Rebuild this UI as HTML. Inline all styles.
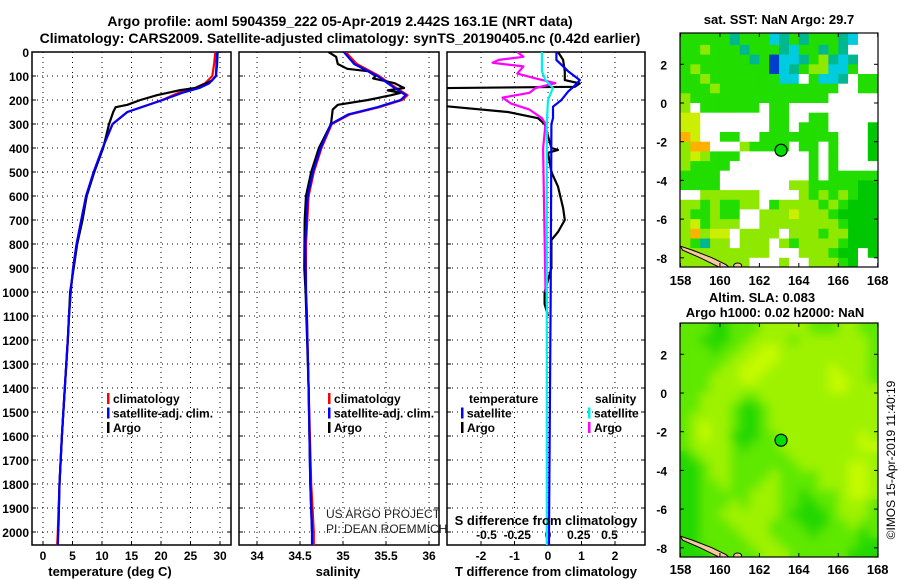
<!DOCTYPE html>
<html><head><meta charset="utf-8">
<style>
html,body{margin:0;padding:0;background:#fff;}
svg{display:block;font-family:"Liberation Sans",Arial,sans-serif;}
.b{font-weight:bold;}
</style></head>
<body>
<svg id="fig" width="900" height="580" viewBox="0 0 900 580" xmlns="http://www.w3.org/2000/svg">
<defs>
<clipPath id="c1"><rect x="32" y="52" width="199" height="493"/></clipPath>
<clipPath id="c2"><rect x="239" y="52" width="200" height="493"/></clipPath>
<clipPath id="c3"><rect x="447" y="52" width="198" height="493"/></clipPath>
<clipPath id="cm1"><rect x="680" y="33" width="198" height="234"/></clipPath>
<clipPath id="cm2"><rect x="680" y="323" width="198" height="234"/></clipPath>
<filter id="blur" x="-10%" y="-10%" width="120%" height="120%"><feGaussianBlur stdDeviation="5"/></filter>
</defs>
<text x="340" y="26" text-anchor="middle" class="b" font-size="14">Argo profile: aoml 5904359_222 05-Apr-2019 2.442S 163.1E (NRT data)</text>
<text x="340" y="43" text-anchor="middle" class="b" font-size="14">Climatology: CARS2009. Satellite-adjusted climatology: synTS_20190405.nc (0.42d earlier)</text>
<g id="g1"></g>
<g id="g2"></g>
<g id="g3"></g>
<g id="m1"></g>
<g id="m2"></g>
<text x="110" y="576" text-anchor="middle" class="b" font-size="13">temperature (deg C)</text>
<text x="338" y="576" text-anchor="middle" class="b" font-size="13">salinity</text>
<text x="546" y="576" text-anchor="middle" class="b" font-size="13">T difference from climatology</text>
<text x="546" y="525" text-anchor="middle" class="b" font-size="13">S difference from climatology</text>
<text x="326" y="518" font-size="12" fill="#222">US ARGO PROJECT</text>
<text x="326" y="533" font-size="12" fill="#222">PI: DEAN ROEMMICH</text>
<text x="779" y="24" text-anchor="middle" class="b" font-size="13">sat. SST: NaN Argo: 29.7</text>
<text x="762" y="302" text-anchor="middle" class="b" font-size="13">Altim. SLA: 0.083</text>
<text x="775" y="317" text-anchor="middle" class="b" font-size="13">Argo h1000: 0.02 h2000: NaN</text>
<text transform="translate(895,460) rotate(-90)" text-anchor="middle" font-size="12">©IMOS 15-Apr-2019 11:40:19</text>
</svg>
<script>
// ---- profile data (depth in m) ----
const tDepth = [0,50,100,130,150,170,200,250,300,400,500,600,700,800,900,1000,1100,1200,1400,1600,1800,2000,2054];
const tClim  = [29.2,29.0,28.7,27.5,25.8,23.0,20.2,14.3,11.8,10.1,8.6,7.3,6.5,5.7,5.1,4.7,4.4,4.2,3.7,3.2,2.8,2.5,2.4];
const tSat   = [29.5,29.4,29.3,28.2,26.5,23.6,20.3,14.3,11.8,10.1,8.6,7.3,6.5,5.7,5.1,4.7,4.4,4.2,3.7,3.2,2.8,2.6,2.5];
const argoDepth = [0,50,100,120,135,150,160,180,200,220,230,250,300,400,500,600,700,800,900,1000,1100,1200,1400,1600,1800,2000];
const argoT  = [29.6,29.5,29.3,28.6,27.2,25.8,23.0,19.3,16.5,14.3,12.3,11.9,11.2,10.2,8.7,7.4,6.7,5.8,5.2,4.6,4.4,4.2,3.7,3.2,2.8,2.6];
const sDepth = [0,50,100,150,180,200,230,260,300,400,500,600,800,1000,1100,1400,1800,2000,2054];
const sClim  = [35.03,35.16,35.42,35.62,35.75,35.69,35.42,35.08,34.87,34.75,34.66,34.60,34.57,34.57,34.58,34.60,34.63,34.66,34.66];
const sSat   = [35.01,35.13,35.40,35.60,35.73,35.67,35.40,35.06,34.86,34.74,34.65,34.59,34.56,34.57,34.58,34.60,34.62,34.64,34.64];
const argoSDepth = [0,20,50,70,80,100,110,130,150,160,170,180,200,220,240,300,400,500,600,700,900,1000,1400,1800,2000];
const argoS  = [34.83,34.92,34.94,35.05,35.29,35.38,35.35,35.60,35.71,35.52,35.67,35.56,35.29,34.94,34.88,34.86,34.72,34.63,34.57,34.555,34.55,34.565,34.6,34.62,34.64];
// differences
const dTDepth = [0,33,80,117,131,145,151,165,220,228,250,276,300,400,408,420,500,561,650,700,750,783,900,1000,1050,1100];
const dTArgo  = [0.3,0.45,0.5,0.5,0.95,0.8,-3.5,-3.6,-3.5,-2.9,-1.2,-0.3,-0.1,0.1,0.3,0.0,0.1,0.3,0.45,0.5,0.3,0.1,0.1,-0.1,-0.1,0.0];
const dTSDepth = [0,33,80,117,140,165,200,228,276,300,1000,2000,2054];
const dTSat   = [0.25,0.25,0.6,0.95,0.8,0.6,0.4,0.15,0.15,0.1,0.08,0.03,0.03];
const dSDepth = [0,20,33,45,60,90,110,130,150,170,190,215,240,276,300,400,700,1000];
const dSArgo  = [-0.25,-0.2,-0.4,-0.45,-0.2,-0.25,-0.1,0.06,-0.1,-0.15,-0.37,-0.3,-0.15,-0.05,-0.02,-0.04,-0.03,-0.02];
const dSSDepth = [0,80,117,150,200,300,1000,2000,2054];
const dSSat   = [-0.05,-0.05,-0.02,0.04,0.0,-0.01,-0.01,-0.01,-0.01];
const depthTicks = [0,100,200,300,400,500,600,700,800,900,1000,1100,1200,1300,1400,1500,1600,1700,1800,1900,2000];
const tTicks = [0,5,10,15,20,25,30];
const sTicks = [34,34.5,35,35.5,36];
const dtTicks = [-2,-1,0,1,2];
const dsTicks = [-0.5,-0.25,0,0.25,0.5];
const dsTickLabels = ["-0.5","-0.25","0","0.25","0.5"];
const lonTicks = [158,160,162,164,166,168];
const latTicks = [2,0,-2,-4,-6,-8];
const argoLon = 163.1, argoLat = -2.44;
const sstGrid = [
"gggggtgggctgtgggtc..",
"gglgggtgggtcggtgt...",
"gggggggtgbcctgltct..",
"glgggggggbctgllccg..",
"gglgggggggcc.gcct.gg",
"ggglgggggggggggg..gg",
"lgggggggggggggg.....",
"l.gggggg.gg.........",
"yy.......gg..gg.....",
"yy.......gg.ggg....G",
"oy..gg..gggggggg...G",
"loo...lgggg.gg.g...G",
"lylggg.......g.g...G",
"lgggg........g.g....",
"gggg.........g.ggggg",
"gggg.......llgggggGG",
"..llllll....lglglgGG",
"llglggll.gllllglgGGG",
"lgglgg..lllylllgGGGG",
"lyglll..llllllllgGGG",
"lolyy.llll.lllgllGGG",
"lgtll.lll.lgllllgGGG",
"lllllllll...lllgGG.G",
"lllllll...l..lllgG.."];
const slaGrid = [
"gggGGgggyyyyygggyygg",
"ggGGGggyyyygyyyyyyyg",
"gggGggyyYYyyyyyyyyyg",
"gggggyyYYYyyyyyyyyyg",
"ggggyyYYYyyyyyyYyyyg",
"gggyyyYYyyyyyyyYYyyg",
"gggyyyyyyyyyyyyYYyyy",
"ggyyyyggyyyyyyyyyyyy",
"ggyyygGGgyyyyyyyyyyy",
"gyyyygGGgyyyyyyyyyyy",
"gyYyygGGgyyyyyyyyyyy",
"gyYyyGGGggyyyyyyyyYy",
"gyyyygGgggyyyyyyyyYY",
"Ggyyyggggggyyyyyyyyy",
"GGgyygggggggyyyyyYYy",
"GGgyyggggyggggyyyYYy",
"GGggygggyyggggyyyYYy",
"GGgggggyyyggGgggyYYy",
"GGgggygyyyggGGggyyyg",
"GGggyyyyyygGGGGgyyyg",
"GGgggyyyygggGGGggygg",
"GGggggyyyggggGggggGg",
"GGgggggyyyggggggggGG",
"GGGgggggyyyggggggGGG"];
const sstColors = {'.':'#ffffff','g':'#22dd00','G':'#00c800','l':'#8ee800','y':'#ccee00','o':'#ffb000','c':'#00cce0','b':'#0040c8','t':'#00b890'};
const slaColors = {'G':'#22d800','g':'#5ee800','y':'#9ef200','Y':'#c4fa00'};

const NS='http://www.w3.org/2000/svg';
function mk(tag, parent, attrs){const e=document.createElementNS(NS,tag);for(const k in attrs)e.setAttribute(k,attrs[k]);parent.appendChild(e);return e;}
function yD(d){return 52+0.24*d;}
const PY0=52, PY1=545;

function panel(g, x0, x1, clip, xFn, ticks, labels, tickY, showDepth){
  mk('rect',g,{x:x0,y:PY0,width:x1-x0,height:PY1-PY0,fill:'#fff',stroke:'none'});
  for(const d of depthTicks){
    const l=mk('line',g,{x1:x0,x2:x1,y1:yD(d),y2:yD(d),stroke:'#000','stroke-width':1,'stroke-dasharray':'1,4'});
    
    
  }
  ticks.forEach((v,i)=>{
    const x=xFn(v);
    const l=mk('line',g,{x1:x,x2:x,y1:PY0,y2:PY1,stroke:'#000','stroke-width':1,'stroke-dasharray':'1,4'});
    
    
    mk('line',g,{x1:x,x2:x,y1:PY1,y2:PY1-4,stroke:'#000'});
    if(labels){
      const t=mk('text',g,{x:x,y:tickY,'text-anchor':'middle','font-size':12,'font-weight':'bold'});
      t.textContent=labels[i];
      
      
    }
  });
  for(const d of depthTicks){
    mk('line',g,{x1:x0,x2:x0+4,y1:yD(d),y2:yD(d),stroke:'#000'});
    mk('line',g,{x1:x1,x2:x1-4,y1:yD(d),y2:yD(d),stroke:'#000'});
    if(showDepth){
      const t=mk('text',g,{x:x0-3,y:yD(d)+5,'text-anchor':'end','font-size':12,'font-weight':'bold'});
      t.textContent=d;
      
      
    }
  }
  const fr=mk('rect',g,{x:x0,y:PY0,width:x1-x0,height:PY1-PY0,fill:'none',stroke:'#000','stroke-width':1.5});
  
  
}
function line(g, clip, depths, vals, xFn, color, name){
  const pts=depths.map((d,i)=>xFn(vals[i]).toFixed(1)+','+yD(d).toFixed(1)).join(' ');
  const p=mk('polyline',g,{points:pts,fill:'none',stroke:color,'stroke-width':2.2,'clip-path':'url(#'+clip+')','stroke-linejoin':'round'});
  
  
}
function legend(g, x, y, items){
  items.forEach((it,i)=>{
    const yy=y+i*14.5;
    mk('rect',g,{x:x,y:yy-10,width:2.5,height:11,fill:it[1]});
    const t=mk('text',g,{x:x+6,y:yy,'font-size':12,'font-weight':'bold'});
    t.textContent=it[0];
    
    
  });
}

const xT=v=>43+5.9*v;
const g1=document.getElementById('g1');
panel(g1,32,231,'c1',xT,tTicks,tTicks.map(String),560,true);
line(g1,'c1',tDepth,tClim,xT,'#ff0000','temperature-climatology-line');
line(g1,'c1',argoDepth,argoT,xT,'#000000','temperature-argo-line');
line(g1,'c1',tDepth,tSat,xT,'#0000ff','temperature-satellite-line');
legend(g1,107,403,[['climatology','#f00'],['satellite-adj. clim.','#00f'],['Argo','#000']]);

const xS=v=>257+86*(v-34);
const g2=document.getElementById('g2');
panel(g2,239,439,'c2',xS,sTicks,sTicks.map(String),560,false);
line(g2,'c2',sDepth,sClim,xS,'#ff0000','salinity-climatology-line');
line(g2,'c2',argoSDepth,argoS,xS,'#000000','salinity-argo-line');
line(g2,'c2',sDepth,sSat,xS,'#0000ff','salinity-satellite-line');
legend(g2,328,403,[['climatology','#f00'],['satellite-adj. clim.','#00f'],['Argo','#000']]);

const xDT=v=>548+33.5*v;
const xDS=v=>548+123*v;
const g3=document.getElementById('g3');
panel(g3,447,645,'c3',xDT,dtTicks,dtTicks.map(String),560,false);
dsTicks.forEach((v,i)=>{
  const t=mk('text',g3,{x:xDS(v),y:539,'text-anchor':'middle','font-size':12,'font-weight':'bold'});
  t.textContent=dsTickLabels[i];
  
  
});
line(g3,'c3',dTDepth,dTArgo,xDT,'#000000','t-difference-argo-line');
line(g3,'c3',dSDepth,dSArgo,xDS,'#ff00ff','s-difference-argo-line');
line(g3,'c3',dTSDepth,dTSat,xDT,'#0000ff','t-difference-satellite-line');
line(g3,'c3',dSSDepth,dSSat,xDS,'#00eeee','s-difference-satellite-line');
(function(){
  const t=mk('text',g3,{x:469,y:403,'font-size':12,'font-weight':'bold'});t.textContent='temperature';
  
  
  const s=mk('text',g3,{x:595,y:403,'font-size':12,'font-weight':'bold'});s.textContent='salinity';
  
  
})();
legend(g3,461,417.5,[['satellite','#00f'],['Argo','#000']]);
legend(g3,588,417.5,[['satellite','#0ee'],['Argo','#f0f']]);

const xLon=lon=>680.5+(lon-158)*19.72;
function cells(cg, grid, colors, yLat, named){
  grid.forEach((row,r)=>{
    const latTop=3.5-0.5*r+(r===0?0.5:0);
    for(let c=0;c<row.length;c++){
      const x=xLon(158+0.5*c), y=yLat(latTop);
      const h=yLat(3.5-0.5*(r+1))-y;
      const cell=mk('rect',cg,{x:x.toFixed(1),y:y.toFixed(1),width:10.4,height:(h+0.4).toFixed(1),fill:colors[row[c]]});
      if(named){
        
        
      }
    }
  });
}
function drawMap(g, y0, latY0, grid, colors, clip, lonLabY, smooth){
  const yLat=lat=>latY0-lat*19.35;
  const cg=mk('g',g,{'clip-path':'url(#'+clip+')'});
  mk('rect',cg,{x:680,y:y0,width:198,height:234,fill:colors[grid[0][0]]});
  cells(cg,grid,colors,yLat,true);
  if(smooth){
    const bg=mk('g',cg,{filter:'url(#blur)'});
    cells(bg,grid,colors,yLat,false);
  }
  const land=mk('polygon',cg,{points:[[158,-7.4],[158.6,-7.6],[159.6,-8.0],[160.3,-8.35],[160.6,-8.6],[160.0,-8.5],[159.0,-8.0],[158.1,-7.6]].map(p=>xLon(p[0]).toFixed(1)+','+yLat(p[1]).toFixed(1)).join(' '),fill:'#f5c8a0',stroke:'#000','stroke-width':1});
  
  
  mk('ellipse',cg,{cx:xLon(160.9),cy:yLat(-8.4),rx:4,ry:2.5,fill:'#f5c8a0',stroke:'#000'});
  const mk2=mk('circle',g,{cx:xLon(argoLon),cy:yLat(argoLat),r:6,fill:'#00dd00',stroke:'#000','stroke-width':1.2});
  
  
  mk('rect',g,{x:680,y:y0,width:198,height:234,fill:'none',stroke:'#000','stroke-width':1.2});
  lonTicks.forEach(l=>{
    const x=xLon(l);
    mk('line',g,{x1:x,x2:x,y1:y0+234,y2:y0+230,stroke:'#000'});
    mk('line',g,{x1:x,x2:x,y1:y0,y2:y0+4,stroke:'#000'});
    const t=mk('text',g,{x:x,y:lonLabY,'text-anchor':'middle','font-size':13,'font-weight':'bold'});
    t.textContent=l;
    
    
  });
  latTicks.forEach(l=>{
    const y=yLat(l);
    mk('line',g,{x1:680,x2:684,y1:y,y2:y,stroke:'#000'});
    mk('line',g,{x1:878,x2:874,y1:y,y2:y,stroke:'#000'});
    const t=mk('text',g,{x:667,y:y+5,'text-anchor':'end','font-size':12,'font-weight':'bold'});
    t.textContent=l;
    
    
  });
}
drawMap(document.getElementById('m1'),33,103,sstGrid,sstColors,'cm1',285,false);
drawMap(document.getElementById('m2'),323,393,slaGrid,slaColors,'cm2',574,true);
</script>
</body></html>
